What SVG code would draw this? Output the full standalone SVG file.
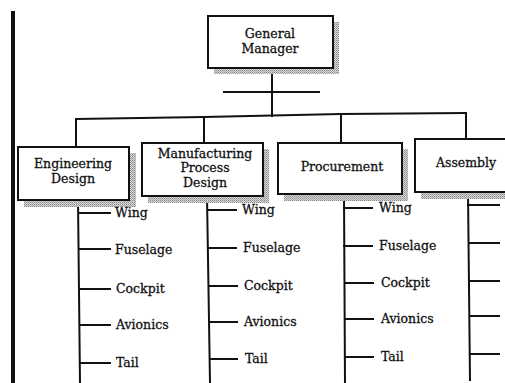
<svg xmlns="http://www.w3.org/2000/svg" width="505" height="383" viewBox="0 0 505 383">
  <defs>
    <pattern id="stipple" width="2" height="2" patternUnits="userSpaceOnUse">
      <rect width="2" height="2" fill="#d8d8d8"/>
      <rect width="1" height="1" fill="#888"/>
      <rect x="1" y="1" width="1" height="1" fill="#aaa"/>
    </pattern>
  </defs>
  <style>
    .box { fill: #fff; stroke: #111; stroke-width: 2; }
    .shadow { fill: url(#stipple); }
    .ln { stroke: #111; stroke-width: 2; fill: none; stroke-linecap: square; }
    text { font-family: "DejaVu Serif", "Liberation Serif", serif; font-size: 12.5px; fill: #111; stroke: #111; stroke-width: 0.3; }
    .c { text-anchor: middle; }
  </style>
  <rect width="505" height="383" fill="#fff"/>

  <!-- page edge bar -->
  <rect x="11" y="11" width="4" height="372" fill="#111"/>

  <!-- connectors -->
  <g id="connectors">
    <path class="ln" d="M272 68 V116"/>
    <path class="ln" d="M224 92 H319"/>
    <path class="ln" d="M76 119 L204 117 L341 114 L466 113"/>
    <path class="ln" d="M76 119 V147"/>
    <path class="ln" d="M204 117 V143"/>
    <path class="ln" d="M341 114 V143"/>
    <path class="ln" d="M466 113 V139"/>

    <!-- Engineering Design branch -->
    <path class="ln" d="M78 200 L80 383"/>
    <path class="ln" d="M79 213 H110 M79 249 H110 M79 289 H110 M80 325 H110 M80 363 H110"/>
    <!-- Manufacturing Process Design branch -->
    <path class="ln" d="M207 196 L210 383"/>
    <path class="ln" d="M208 210 H236 M208 248 H236 M209 286 H237 M209 322 H237 M210 359 H237"/>
    <!-- Procurement branch -->
    <path class="ln" d="M344 194 L345 383"/>
    <path class="ln" d="M344 208 H372 M344 246 H372 M345 283 H373 M345 319 H373 M345 357 H373"/>
    <!-- Assembly branch -->
    <path class="ln" d="M468 192 L470 380"/>
    <path class="ln" d="M468 205 H499 M469 243 H499 M469 281 H499 M470 316 H499 M470 354 H499"/>
  </g>

  <g id="general-manager">
    <rect class="shadow" x="214" y="22" width="125" height="52"/>
    <rect class="box" x="208" y="16" width="125" height="52"/>
    <text class="c" x="270" y="38">General</text>
    <text class="c" x="270" y="52.5">Manager</text>
  </g>

  <g id="engineering-design">
    <rect class="shadow" x="24" y="153" width="112" height="54"/>
    <rect class="box" x="18" y="147" width="111" height="53"/>
    <text class="c" x="73" y="168">Engineering</text>
    <text class="c" x="73" y="182.5">Design</text>
  </g>

  <g id="manufacturing-process-design">
    <rect class="shadow" x="148" y="149" width="121" height="54"/>
    <rect class="box" x="142" y="143" width="121" height="53"/>
    <text class="c" x="205" y="157.5">Manufacturing</text>
    <text class="c" x="205" y="172">Process</text>
    <text class="c" x="205" y="186.5">Design</text>
  </g>

  <g id="procurement">
    <rect class="shadow" x="284" y="149" width="124" height="52"/>
    <rect class="box" x="278" y="143" width="124" height="51"/>
    <text class="c" x="342" y="171">Procurement</text>
  </g>

  <g id="assembly">
    <rect class="shadow" x="421" y="145" width="90" height="54"/>
    <rect class="box" x="415" y="139" width="95" height="53"/>
    <text x="436" y="167">Assembly</text>
  </g>

  <g id="engineering-items">
    <text x="115" y="217">Wing</text>
    <text x="115" y="254">Fuselage</text>
    <text x="116" y="293">Cockpit</text>
    <text x="116" y="329">Avionics</text>
    <text x="116" y="367">Tail</text>
  </g>

  <g id="manufacturing-items">
    <text x="242" y="214">Wing</text>
    <text x="243" y="252">Fuselage</text>
    <text x="244" y="290">Cockpit</text>
    <text x="244" y="326">Avionics</text>
    <text x="245" y="363">Tail</text>
  </g>

  <g id="procurement-items">
    <text x="379" y="212">Wing</text>
    <text x="379" y="250">Fuselage</text>
    <text x="381" y="287">Cockpit</text>
    <text x="381" y="323">Avionics</text>
    <text x="381" y="361">Tail</text>
  </g>
</svg>
